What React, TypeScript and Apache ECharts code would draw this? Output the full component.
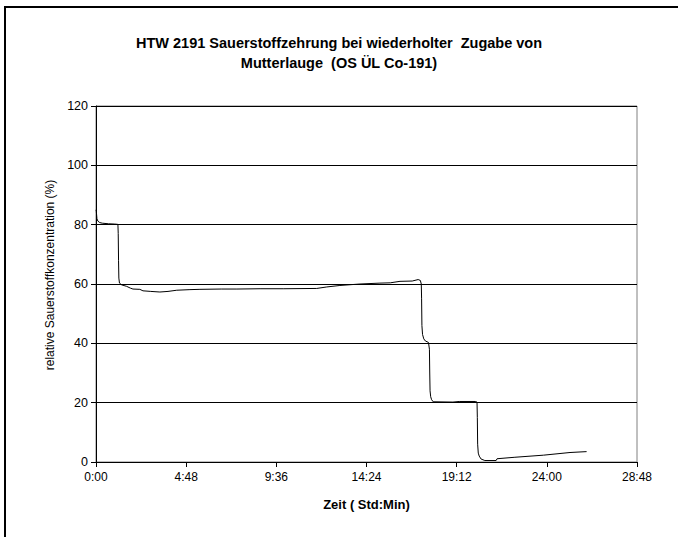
import React, { useEffect, useRef } from "react";
import * as echarts from "echarts";

const titleLines = [
  "HTW 2191 Sauerstoffzehrung bei wiederholter  Zugabe von",
  "Mutterlauge  (OS ÜL Co-191)",
];
const yAxisName = "relative Sauerstoffkonzentration (%)";
const xAxisName = "Zeit ( Std:Min)";

// time in minutes
const timeMinutes = [
  0, 1, 3, 6, 12, 20, 40, 60, 70, 71, 72, 73, 75, 82, 98, 110, 118, 140, 150, 175,
  204, 230, 258, 300, 332, 400, 450, 524, 600, 705, 737, 779, 843, 907, 940, 971,
  1010, 1029, 1036, 1039, 1040, 1041, 1043, 1047, 1052, 1062, 1065, 1066, 1067,
  1069, 1072, 1077, 1140, 1160, 1211, 1217, 1218, 1219, 1221, 1224, 1230, 1242,
  1278, 1281, 1338, 1429, 1514, 1567,
];
// relative oxygen concentration in %
const oxygenPercent = [
  85, 84.5, 82, 81.2, 80.7, 80.5, 80.3, 80.2, 80.1, 77, 68, 62, 60.3, 59.7, 59.2,
  58.6, 58.3, 58.2, 57.7, 57.5, 57.3, 57.5, 57.9, 58.1, 58.2, 58.3, 58.3, 58.4,
  58.4, 58.5, 59, 59.5, 60, 60.3, 60.4, 60.9, 61, 61.5, 61.2, 60, 55, 46, 43,
  41.5, 40.8, 40.3, 38, 30, 24, 22, 21, 20.3, 20.2, 20.4, 20.4, 20.2, 15, 6, 3,
  2, 1, 0.5, 0.5, 1.1, 1.6, 2.3, 3.2, 3.5,
];

const xMin = 0;
const xMax = 1728;
const xStep = 288;
const yMin = 0;
const yMax = 120;
const yStep = 20;

function fmtTime(m: number): string {
  const h = Math.floor(m / 60);
  const mm = Math.round(m % 60);
  return `${h}:${mm < 10 ? "0" + mm : mm}`;
}

export default function App() {
  const ref = useRef<HTMLDivElement>(null);
  useEffect(() => {
    if (!ref.current) return;
    const chart = echarts.init(ref.current, undefined, { renderer: "svg" });
    const font = "'Liberation Sans', Arial, sans-serif";
    chart.setOption({
      animation: false,
      title: {
        text: titleLines.join("\n"),
        left: "center",
        top: 28,
        textStyle: {
          fontFamily: font,
          fontSize: 14.5,
          fontWeight: "bold",
          color: "#000",
          lineHeight: 20,
        },
      },
      grid: {
        left: 96,
        top: 106,
        right: 41,
        bottom: 75,
        show: true,
        borderColor: "#808080",
        borderWidth: 1,
      },
      xAxis: {
        type: "value",
        min: xMin,
        max: xMax,
        interval: xStep,
        name: xAxisName,
        nameLocation: "middle",
        nameGap: 36,
        nameTextStyle: { fontFamily: font, fontSize: 13, fontWeight: "bold", color: "#000" },
        axisLine: { show: true, lineStyle: { color: "#000", width: 1 } },
        axisTick: { show: true, length: 5, lineStyle: { color: "#000" } },
        axisLabel: {
          fontFamily: font,
          fontSize: 12,
          color: "#000",
          margin: 9,
          formatter: (v: number) => fmtTime(v),
        },
        splitLine: { show: false },
      },
      yAxis: {
        type: "value",
        min: yMin,
        max: yMax,
        interval: yStep,
        name: yAxisName,
        nameLocation: "middle",
        nameGap: 39,
        nameTextStyle: {
          fontFamily: font,
          fontSize: 12,
          color: "#000",
          padding: [0, 0, 0, 18],
        },
        axisLine: { show: true, lineStyle: { color: "#000", width: 1 } },
        axisTick: { show: true, length: 5, lineStyle: { color: "#000" } },
        axisLabel: { fontFamily: font, fontSize: 12.5, color: "#000", margin: 8 },
        splitLine: { show: true, lineStyle: { color: "#000", width: 1 } },
      },
      series: [
        {
          type: "line",
          data: timeMinutes.map((t, i) => [t, oxygenPercent[i]]),
          showSymbol: false,
          symbol: "none",
          lineStyle: { color: "#000", width: 1 },
        },
      ],
    });
    return () => chart.dispose();
  }, []);
  return (
    <div
      style={{
        position: "fixed",
        left: 0,
        top: 0,
        width: 678,
        height: 537,
        overflow: "hidden",
        background: "#fff",
      }}
    >
      <div
        style={{
          position: "absolute",
          left: 4,
          top: 6,
          width: 900,
          height: 900,
          borderLeft: "2px solid #000",
          borderTop: "2px solid #000",
        }}
      />
      <div
        ref={ref}
        style={{ position: "absolute", left: 0, top: 0, width: 678, height: 537 }}
      />
    </div>
  );
}
